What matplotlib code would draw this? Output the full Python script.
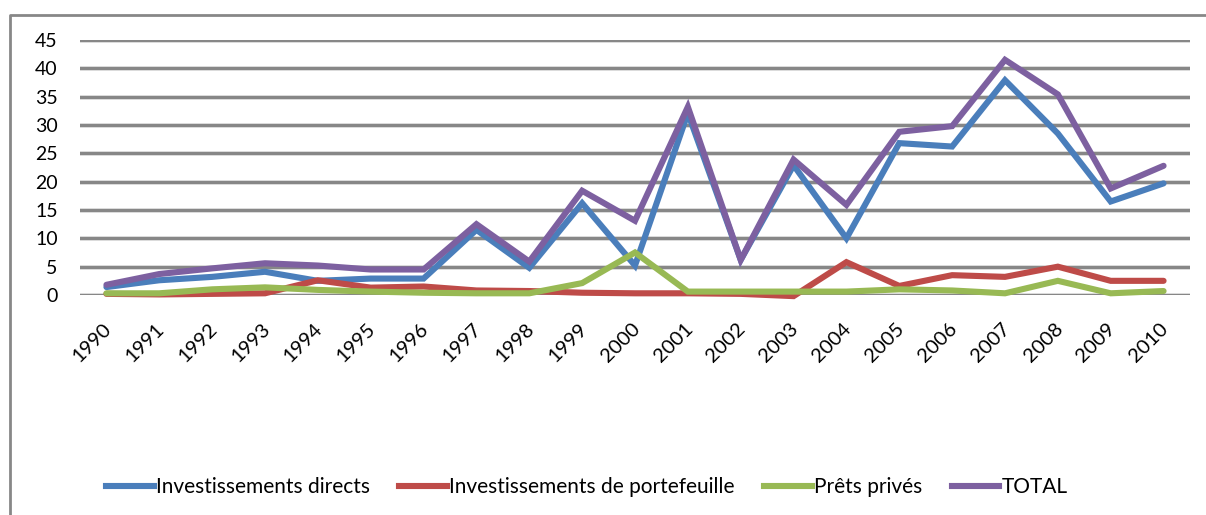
import matplotlib
matplotlib.use("Agg")
import matplotlib.pyplot as plt
from matplotlib.lines import Line2D
from matplotlib.transforms import ScaledTranslation

years = ["1990", "1991", "1992", "1993", "1994", "1995", "1996", "1997", "1998", "1999", "2000",
         "2001", "2002", "2003", "2004", "2005", "2006", "2007", "2008", "2009", "2010"]
directs = [1.4, 2.6, 3.2, 4.1, 2.5, 2.9, 2.9, 11.5, 4.8, 16.2, 5.2,
           32.1, 6.2, 22.9, 10.0, 26.8, 26.2, 37.9, 28.5, 16.5, 19.7]
portefeuille = [0.2, 0.1, 0.2, 0.3, 2.6, 1.3, 1.5, 0.8, 0.7, 0.4, 0.3,
                0.3, 0.2, -0.2, 5.8, 1.6, 3.5, 3.2, 5.0, 2.5, 2.5]
prets = [0.3, 0.3, 1.0, 1.35, 0.9, 0.6, 0.4, 0.3, 0.3, 2.1, 7.5,
         0.6, 0.6, 0.6, 0.6, 1.0, 0.8, 0.3, 2.5, 0.3, 0.7]
total = [1.8, 3.7, 4.7, 5.6, 5.2, 4.5, 4.5, 12.5, 5.9, 18.4, 13.1,
         33.2, 6.2, 23.9, 15.9, 28.8, 29.8, 41.5, 35.4, 18.8, 22.8]
series_names = ["Investissements directs", "Investissements de portefeuille", "Prêts privés", "TOTAL"]
series_colors = ["#4A7EBB", "#BE4B48", "#98B954", "#7D60A0"]
yticks = [0, 5, 10, 15, 20, 25, 30, 35, 40, 45]

plt.rcParams['font.family'] = ['Lato', 'DejaVu Sans']

W, H = 1206, 515
fig = plt.figure(figsize=(W / 100, H / 100), dpi=100)
ax = fig.add_axes([80 / W, 1 - 295 / H, 1110 / W, 255 / H])

x = list(range(len(years)))
for vals, c in zip([directs, portefeuille, prets, total], series_colors):
    ax.plot(x, vals, color=c, lw=4.4, solid_capstyle='round', solid_joinstyle='miter',
            clip_on=False, zorder=3)

ax.set_xlim(-0.5, len(years) - 0.5)
ax.set_ylim(0, 45)
ax.set_yticks(yticks)
ax.set_yticklabels([str(v) for v in yticks], fontsize=14)
for v in yticks:
    ax.axhline(v, color="#D9D9D9", lw=3.4, zorder=1)
    ax.axhline(v, color="#878787", lw=2.2, zorder=1.5)
for s in ax.spines.values():
    s.set_visible(False)
ax.tick_params(axis='y', length=0, pad=16)
ax.tick_params(axis='x', length=0, pad=0)
ax.set_xticks(x)
ax.set_xticklabels(years, fontsize=14.5, rotation=45, rotation_mode='anchor', ha='right', va='center')
off = ScaledTranslation(2 / 100, -31 / 100, fig.dpi_scale_trans)
for lab in ax.get_xticklabels():
    lab.set_transform(lab.get_transform() + off)

handles = [Line2D([], [], color=c, lw=4.4) for c in series_colors]
fig.legend(handles, series_names, loc='center', bbox_to_anchor=(587 / W, 1 - 487 / H), ncol=4,
           frameon=False, fontsize=15, handlelength=2.3, handletextpad=0.1, columnspacing=1.4)

# outer frame (cropped chart border)
fig.add_artist(Line2D([10 / W, 10 / W, 1.0], [0.0, 1 - 15 / H, 1 - 15 / H], transform=fig.transFigure,
                      color="#878787", lw=2.0))

fig.savefig("out.png", dpi=100)
